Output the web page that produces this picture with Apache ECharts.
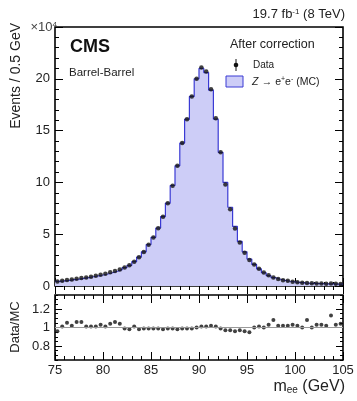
<!DOCTYPE html>
<html>
<head>
<meta charset="utf-8">
<script src="https://cdn.jsdelivr.net/npm/echarts@6/dist/echarts.min.js"></script>
<style>
  html, body { margin: 0; padding: 0; background: #fff; }
  #chart { width: 357px; height: 401px; }
</style>
</head>
<body>
<div id="chart"></div>
<script>
// binning: 0.5 GeV bins from 75 to 105
const X_MIN = 75;
const X_MAX = 105;
const BIN_WIDTH = 0.5;

// MC histogram (x10^4 events per bin)
const mcValues = [
  0.45, 0.50, 0.55, 0.61, 0.67, 0.74, 0.81, 0.89, 0.97, 1.06,
  1.16, 1.28, 1.42, 1.58, 1.78, 2.00, 2.35, 2.80, 3.30, 4.00,
  4.70, 5.60, 6.70, 8.00, 9.70, 11.6, 13.8, 16.1, 18.3, 20.0,
  21.0, 20.6, 18.9, 16.1, 12.9, 10.0, 7.60, 5.75, 4.30, 3.30,
  2.60, 2.08, 1.65, 1.28, 1.00, 0.80, 0.65, 0.54, 0.46, 0.40,
  0.35, 0.31, 0.28, 0.26, 0.24, 0.22, 0.21, 0.20, 0.19, 0.18
];

// data points (x10^4 events per bin)
const dataValues = [
  0.44, 0.50, 0.57, 0.62, 0.70, 0.77, 0.82, 0.90, 0.98, 1.09,
  1.19, 1.33, 1.44, 1.60, 1.79, 2.00, 2.35, 2.78, 3.28, 3.98,
  4.67, 5.58, 6.68, 7.98, 9.68, 11.6, 13.8, 16.1, 18.3, 20.0,
  21.1, 20.7, 19.0, 16.2, 12.9, 9.8, 7.40, 5.55, 4.20, 3.20,
  2.50, 2.08, 1.67, 1.30, 1.03, 0.82, 0.67, 0.55, 0.50, 0.41,
  0.36, 0.31, 0.30, 0.27, 0.25, 0.23, 0.22, 0.23, 0.21, 0.19
];

// Data/MC ratio per bin
const ratioValues = [
  0.96, 1.01, 1.05, 1.02, 1.06, 1.06, 1.01, 1.01, 1.01, 1.03,
  1.01, 1.04, 1.06, 1.04, 0.99, 0.98, 1.01, 0.98, 0.99, 0.99,
  0.99, 0.99, 0.98, 0.99, 0.99, 0.98, 0.99, 0.99, 0.99, 1.00,
  1.01, 1.01, 1.02, 1.01, 0.99, 0.97, 0.97, 0.96, 0.97, 0.96,
  0.95, 1.00, 1.01, 1.00, 1.03, 1.08, 1.02, 1.02, 1.02, 1.03,
  1.02, 1.00, 1.08, 1.00, 1.03, 1.03, 1.02, 1.13, 1.03, 1.04
];

const mainYTicks = [0, 5, 10, 15, 20];
const ratioYTicks = [0.8, 1, 1.2];

const binLow = mcValues.map((_, i) => X_MIN + i * BIN_WIDTH);
const binCenter = binLow.map((x) => x + BIN_WIDTH / 2);

const FONT = "'Liberation Sans', Arial, sans-serif";
const FILL = "#cdcdf7";
const LINE = "#3a3ad4";

const chart = echarts.init(document.getElementById("chart"));

const tickAxisX = (gridIndex, position, labels) => ({
  type: "value",
  gridIndex,
  position,
  min: X_MIN,
  max: X_MAX,
  interval: 5,
  axisLine: { show: false },
  axisTick: { show: true, inside: true, length: 8, lineStyle: { color: "#000", width: 1 } },
  minorTick: { show: true, splitNumber: 5, length: 4, lineStyle: { color: "#000", width: 1 } },
  splitLine: { show: false },
  axisLabel: labels
    ? { show: true, fontFamily: FONT, fontSize: 13, color: "#222", margin: 4 }
    : { show: false },
});

const ratioAxisY = (position, major, labels) => ({
  type: "value",
  gridIndex: 1,
  position,
  min: 0.65,
  max: 1.35,
  interval: 0.05,
  axisLine: { show: false },
  splitLine: { show: false },
  axisTick: major
    ? { show: true, inside: true, length: 7, customValues: ratioYTicks, lineStyle: { color: "#000" } }
    : { show: true, inside: true, length: 3, lineStyle: { color: "#000" } },
  axisLabel: labels
    ? {
        show: true, customValues: ratioYTicks, fontFamily: FONT, fontSize: 13, color: "#222", margin: 5,
        formatter: (v) => String(Math.round(v * 10) / 10),
      }
    : { show: false },
});

const mainAxisY = (position, labels) => ({
  type: "value",
  gridIndex: 0,
  position,
  min: 0,
  max: 25,
  interval: 5,
  axisLine: { show: false },
  splitLine: { show: false },
  axisTick: { show: true, inside: true, length: 8, lineStyle: { color: "#000" } },
  minorTick: { show: true, splitNumber: 5, length: 4, lineStyle: { color: "#000" } },
  axisLabel: labels
    ? {
        show: true, fontFamily: FONT, fontSize: 13, color: "#222", margin: 5,
        formatter: (v) => (mainYTicks.includes(v) ? String(v) : ""),
      }
    : { show: false },
});

const histData = binLow.map((x, i) => [x, mcValues[i]]);
histData.push([X_MAX, mcValues[mcValues.length - 1]]);

const option = {
  animation: false,
  backgroundColor: "#fff",
  grid: [
    { left: 55, right: 14, top: 27, height: 259, show: true, borderColor: "#000", borderWidth: 1.6, backgroundColor: "transparent", outerBoundsMode: "none" },
    { left: 55, right: 14, top: 295, height: 65, show: true, borderColor: "#000", borderWidth: 1.6, backgroundColor: "transparent", outerBoundsMode: "none" },
  ],
  xAxis: [
    tickAxisX(0, "bottom", false),
    tickAxisX(0, "top", false),
    tickAxisX(1, "bottom", true),
    tickAxisX(1, "top", false),
  ],
  yAxis: [
    mainAxisY("left", true),
    mainAxisY("right", false),
    ratioAxisY("left", false, false),
    ratioAxisY("left", true, true),
    ratioAxisY("right", false, false),
    ratioAxisY("right", true, false),
  ],
  series: [
    {
      name: "MC",
      type: "line",
      xAxisIndex: 0,
      yAxisIndex: 0,
      step: "end",
      symbol: "none",
      data: histData,
      lineStyle: { color: LINE, width: 1.2 },
      areaStyle: { color: FILL, opacity: 1 },
      z: 2,
    },
    {
      name: "Data",
      type: "scatter",
      xAxisIndex: 0,
      yAxisIndex: 0,
      symbol: "circle",
      symbolSize: 4.5,
      itemStyle: { color: "#111" },
      data: binCenter.map((x, i) => [x, dataValues[i]]),
      z: 3,
    },
    {
      name: "Ratio",
      type: "scatter",
      xAxisIndex: 2,
      yAxisIndex: 2,
      symbol: "circle",
      symbolSize: 4,
      itemStyle: { color: "#111" },
      data: binCenter.map((x, i) => [x, ratioValues[i]]),
      markLine: {
        silent: true,
        symbol: "none",
        label: { show: false },
        lineStyle: { color: "#999", width: 1, type: "solid" },
        data: [{ yAxis: 1 }],
      },
      z: 3,
    },
  ],
  graphic: [
    {
      type: "text", x: 57, y: 27,
      style: {
        text: "{a|×10}{s|4}", align: "right", verticalAlign: "middle",
        rich: {
          a: { fontFamily: FONT, fontSize: 13, fill: "#444" },
          s: { fontFamily: FONT, fontSize: 8, fill: "#444", verticalAlign: "top" },
        },
      },
    },
    {
      type: "text", x: 345, y: 14,
      style: {
        text: "{a|19.7 fb}{s|-1}{a| (8 TeV)}", align: "right", verticalAlign: "middle",
        rich: {
          a: { fontFamily: FONT, fontSize: 13, fill: "#222" },
          s: { fontFamily: FONT, fontSize: 8, fill: "#222", verticalAlign: "top" },
        },
      },
    },
    {
      type: "text", x: 70, y: 47,
      style: { text: "CMS", fontFamily: FONT, fontSize: 18, fontWeight: "bold", fill: "#111", verticalAlign: "middle" },
    },
    {
      type: "text", x: 69, y: 73,
      style: { text: "Barrel-Barrel", fontFamily: FONT, fontSize: 11.5, fill: "#222", verticalAlign: "middle" },
    },
    {
      type: "text", x: 230, y: 45,
      style: { text: "After correction", fontFamily: FONT, fontSize: 12.5, fill: "#222", verticalAlign: "middle" },
    },
    // legend: data marker
    { type: "line", shape: { x1: 236, y1: 59, x2: 236, y2: 71 }, style: { stroke: "#111", lineWidth: 1 } },
    { type: "circle", shape: { cx: 236, cy: 65, r: 2.3 }, style: { fill: "#111" } },
    {
      type: "text", x: 253, y: 65,
      style: { text: "Data", fontFamily: FONT, fontSize: 10, fill: "#222", verticalAlign: "middle" },
    },
    // legend: MC box
    { type: "rect", shape: { x: 226, y: 76, width: 17, height: 11 }, style: { fill: FILL, stroke: LINE, lineWidth: 1 } },
    {
      type: "text", x: 252, y: 82,
      style: {
        text: "{i|Z} {a|→ e}{s|+}{a|e}{s|-}{a| (MC)}", verticalAlign: "middle",
        rich: {
          i: { fontFamily: FONT, fontSize: 10.5, fontStyle: "italic", fill: "#222" },
          a: { fontFamily: FONT, fontSize: 10.5, fill: "#222" },
          s: { fontFamily: FONT, fontSize: 7, fill: "#222", verticalAlign: "top" },
        },
      },
    },
    // axis titles
    {
      type: "text", x: 16, y: 23, rotation: Math.PI / 2,
      style: { text: "Events / 0.5 GeV", fontFamily: FONT, fontSize: 14, fill: "#222", align: "right", verticalAlign: "middle" },
    },
    {
      type: "text", x: 15, y: 327, rotation: Math.PI / 2,
      style: { text: "Data/MC", fontFamily: FONT, fontSize: 13, fill: "#222", align: "center", verticalAlign: "middle" },
    },
    {
      type: "text", x: 345, y: 387,
      style: {
        text: "{a|m}{b|ee}{a| (GeV)}", align: "right", verticalAlign: "middle",
        rich: {
          a: { fontFamily: FONT, fontSize: 16, fill: "#222" },
          b: { fontFamily: FONT, fontSize: 10, fill: "#222", verticalAlign: "bottom" },
        },
      },
    },
  ],
};

chart.setOption(option);
</script>
</body>
</html>
